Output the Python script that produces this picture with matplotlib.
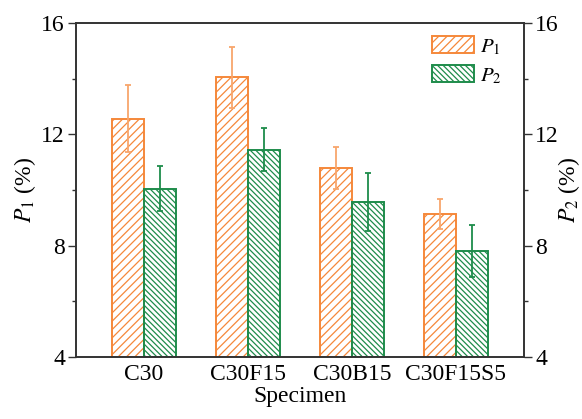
import matplotlib
matplotlib.use('Agg')
from matplotlib import pyplot as plt
import numpy as np

specimens = ['C30', 'C30F15', 'C30B15', 'C30F15S5']
p1_values = [12.56, 14.05, 10.78, 9.14]
p1_errors = [1.2, 1.1, 0.75, 0.55]
p2_values = [10.05, 11.44, 9.58, 7.81]
p2_errors = [0.82, 0.77, 1.04, 0.93]

plt.rcParams['font.family'] = 'Liberation Serif'
plt.rcParams['mathtext.fontset'] = 'stix'
plt.rcParams['hatch.linewidth'] = 0.9

orange = '#F5883A'
orange_err = '#F8A66C'
green = '#1E8C4B'
axis_col = '#333333'
fs = 17

fig = plt.figure(figsize=(5.82, 4.19), dpi=100)
ax = fig.add_axes([76 / 582, 1 - 357 / 419, 448 / 582, 334 / 419])

x = np.arange(len(specimens))
width = 0.31

ax.bar(x - width / 2, np.array(p1_values) - 4, width, bottom=4, color='none',
       edgecolor=orange, hatch='////', linewidth=1.4, label='$P_1$')
ax.bar(x + width / 2, np.array(p2_values) - 4, width, bottom=4, color='none',
       edgecolor=green, hatch='\\' * 6, linewidth=1.4, label='$P_2$')
ax.errorbar(x - width / 2, p1_values, yerr=p1_errors, fmt='none',
            ecolor=orange_err, elinewidth=1.3, capsize=2.5, capthick=1.3)
ax.errorbar(x + width / 2, p2_values, yerr=p2_errors, fmt='none',
            ecolor=green, elinewidth=1.3, capsize=2.5, capthick=1.3)

ax.set_xlim(-0.654, 3.654)
ax.set_ylim(4, 16)
ax.set_xticks(x)
ax.set_xticklabels(specimens, fontsize=fs)
ax.set_yticks([4, 8, 12, 16])
ax.set_yticks([6, 10, 14], minor=True)
ax.tick_params(axis='y', which='major', labelsize=fs, length=6, width=1,
               color=axis_col, direction='out', pad=2)
ax.tick_params(axis='y', which='minor', length=3, width=1, color=axis_col)
ax.tick_params(axis='x', length=0, pad=5)
for s in ax.spines.values():
    s.set_color(axis_col)
    s.set_linewidth(1.2)

ax.set_xlabel('Specimen', fontsize=fs, labelpad=1)
ax.set_ylabel('$P_1$ (%)', fontsize=fs, labelpad=2)

ax2 = ax.twinx()
ax2.set_ylim(4, 16)
ax2.set_yticks([4, 8, 12, 16])
ax2.set_yticks([6, 10, 14], minor=True)
ax2.tick_params(axis='y', which='major', labelsize=fs, length=6, width=1,
                color=axis_col, direction='out', pad=2)
ax2.tick_params(axis='y', which='minor', length=3, width=1, color=axis_col)
for s in ax2.spines.values():
    s.set_color(axis_col)
    s.set_linewidth(1.2)
ax2.set_ylabel('$P_2$ (%)', fontsize=fs, labelpad=-2)

leg = ax.legend(loc='upper left', bbox_to_anchor=(432 / 582, 1 - 36 / 419),
                bbox_transform=fig.transFigure, frameon=False, fontsize=15,
                handlelength=2.0, handleheight=0.9, labelspacing=0.4,
                handletextpad=0.3, borderpad=0, borderaxespad=0)

fig.savefig('out.png', dpi=100)
